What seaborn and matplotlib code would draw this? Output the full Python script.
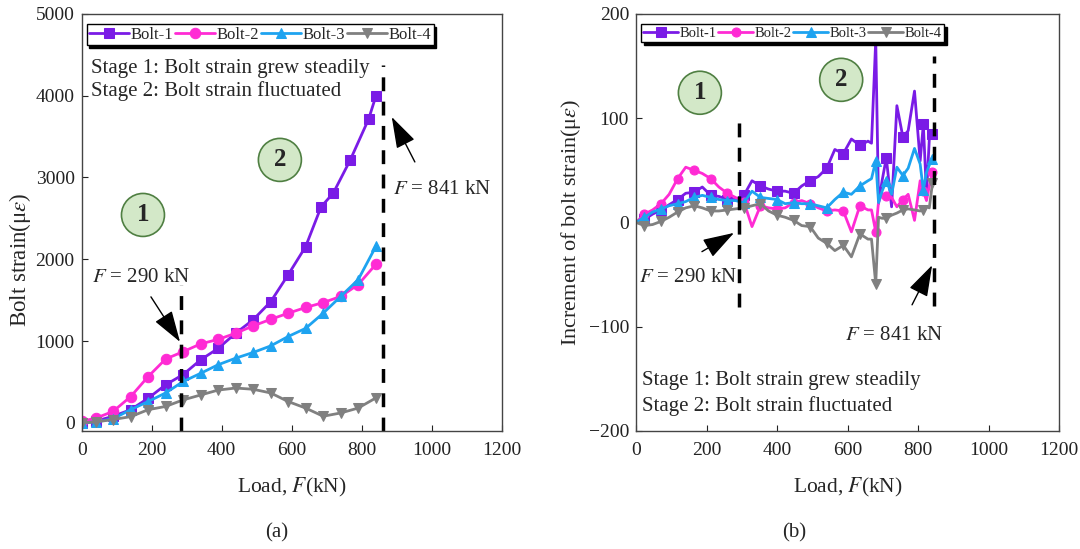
import matplotlib.pyplot as plt
import seaborn as sns

# (a) bolt strain vs load
load_a = [0, 40, 90, 140, 190, 240, 290, 340, 390, 440, 490, 540, 590, 640, 690, 740, 790, 841]
load_a_bolt1 = [0, 40, 90, 140, 190, 240, 290, 340, 390, 440, 490, 540, 590, 640, 684, 719, 767, 820, 841]
strain_bolt1 = [0, 20, 80, 160, 300, 465, 590, 770, 910, 1095, 1260, 1480, 1810, 2155, 2640, 2810, 3210, 3715, 4000]
strain_bolt2 = [20, 55, 140, 320, 565, 780, 870, 965, 1020, 1095, 1185, 1265, 1340, 1410, 1470, 1545, 1690, 1940]
strain_bolt3 = [0, 10, 50, 160, 260, 365, 505, 605, 710, 790, 860, 940, 1055, 1155, 1340, 1545, 1750, 2160]
strain_bolt4 = [0, 10, 40, 75, 160, 200, 280, 340, 400, 425, 410, 365, 260, 180, 80, 120, 180, 305]

# (b) increment of bolt strain vs load
load_b = [0, 24, 47, 71, 94, 118, 141, 165, 188, 212, 235, 259, 282, 306, 329, 353, 376, 400,
          423, 447, 470, 494, 517, 541, 564, 588, 611, 635, 658,
          668, 680, 688, 698, 710, 725, 740, 757, 772, 790, 806, 815, 824, 832, 841]
inc_bolt1 = [0, 3, 8, 12, 17, 22, 28, 29, 34, 26, 25, 22, 22, 26, 40, 35, 32, 30,
             30, 28, 35, 40, 44, 52, 70, 66, 80, 74, 78,
             76, 175, 18, 40, 62, 15, 112, 82, 88, 126, 59, 94, 27, 80, 85]
inc_bolt2 = [0, 8, 12, 18, 27, 42, 53, 50, 47, 42, 34, 28, 24, 20, -4, 16, 14, 13,
             14, 19, 21, 18, 14, 11, 12, 11, -9, 16, 12,
             12, -9, 20, 27, 25, 24, 15, 22, 27, 2, 40, 30, 21, 35, 48]
inc_bolt3 = [0, 5, 10, 13, 16, 18, 20, 24, 26, 24, 22, 21, 21, 19, 30, 24, 23, 22,
             18, 19, 18, 18, 16, 14, 22, 29, 27, 35, 40,
             42, 59, 19, 30, 40, 27, 53, 45, 52, 71, 56, 31, 48, 55, 61]
inc_bolt4 = [0, -3, -2, 1, 5, 10, 14, 16, 14, 11, 11, 12, 13, 14, 16, 18, 11, 7,
             5, 2, -3, -4, -15, -20, -27, -22, -33, -11, -16,
             -16, -59, 5, 4, 4, 7, 9, 12, 13, 12, 11, 12, 15, 14, 38]

labels = ["Bolt-1", "Bolt-2", "Bolt-3", "Bolt-4"]
colors = ["#7a1be6", "#ff2bd4", "#1ea3f0", "#808080"]
markers = ["s", "o", "^", "v"]

sns.set_style("ticks")
plt.rcParams["font.family"] = ["Liberation Serif", "DejaVu Serif"]
plt.rcParams["mathtext.fontset"] = "stix"

fig = plt.figure(figsize=(10.8, 5.49), dpi=100)
ax1 = fig.add_axes([0.0756, 0.215, 0.3889, 0.7596])
ax2 = fig.add_axes([0.5889, 0.215, 0.3917, 0.7596])


def draw(ax, x, y, i, ms, markevery=None):
    sns.lineplot(x=x, y=y, ax=ax, color=colors[i], marker=markers[i], markersize=ms,
                 markeredgecolor=colors[i], linewidth=2, label=labels[i],
                 markevery=markevery, estimator=None, sort=False)


draw(ax1, load_a_bolt1, strain_bolt1, 0, 7)
draw(ax1, load_a, strain_bolt2, 1, 7.5)
draw(ax1, load_a, strain_bolt3, 2, 7.5)
draw(ax1, load_a, strain_bolt4, 3, 7.5)

# markers only on some points in (b)
mk = list(range(1, 29, 2)) + [30, 33, 36, 40, 43]
for i, y in enumerate([inc_bolt1, inc_bolt2, inc_bolt3, inc_bolt4]):
    draw(ax2, load_b, y, i, 6.5, mk)

for ax in (ax1, ax2):
    ax.set_xlim(0, 1200)
    ax.set_xticks(range(0, 1201, 200))
    ax.tick_params(direction="in", length=4, labelsize=14, colors="#222", pad=5)
    ax.tick_params(axis="x", pad=8)
    for s in ax.spines.values():
        s.set_color("#444")
        s.set_linewidth(1)
    ax.set_xlabel("Load, $F$(kN)", fontsize=15.5, labelpad=12)
    h, l = ax.get_legend_handles_labels()
    fs = 12 if ax is ax1 else 10.5
    leg = ax.legend(h, l, loc="upper left", bbox_to_anchor=(0.012, 0.975), ncol=4,
                    fancybox=False, shadow={"color": "black", "alpha": 1}, edgecolor="black",
                    framealpha=1, handlelength=2.4, handletextpad=0.1, columnspacing=0.1,
                    borderpad=0.15, borderaxespad=0, prop={"size": fs})
    leg.get_frame().set_linewidth(1)
    leg.set_zorder(10)

ax1.set_ylim(-100, 5000)
ax1.set_yticks(range(0, 5001, 1000))
ax1.set_ylabel("Bolt strain(μ$\\varepsilon$)", fontsize=16.5)
ax1.yaxis.set_label_coords(-0.115, 0.41)
ax2.set_ylim(-200, 200)
ax2.set_yticks([-200, -100, 0, 100, 200])
ax2.set_ylabel("Increment of bolt strain(μ$\\varepsilon$)", fontsize=16)
ax2.yaxis.set_label_coords(-0.125, 0.5)

dash = (0, (4, 3))
circle = dict(boxstyle="circle,pad=0.4", fc="#d3e8c8", ec="#4f7f42", lw=1.2)
arrow = dict(arrowstyle="-|>,head_length=1.4,head_width=0.45", color="black", lw=1,
             mutation_scale=14, shrinkA=0, shrinkB=0)
fs_txt = 15

# panel (a) annotations
ax1.vlines(285, -100, 1690, colors="black", linestyles=dash, lw=2.5)
ax1.vlines(862, -100, 4370, colors="black", linestyles=dash, lw=2.5)
ax1.text(0.022, 0.87, "Stage 1: Bolt strain grew steadily", transform=ax1.transAxes,
         fontsize=fs_txt, va="center")
ax1.text(0.022, 0.815, "Stage 2: Bolt strain fluctuated", transform=ax1.transAxes,
         fontsize=fs_txt, va="center")
ax1.text(0.146, 0.518, "1", transform=ax1.transAxes, fontsize=18, fontweight="bold",
         ha="center", va="center", bbox=circle)
ax1.text(0.472, 0.65, "2", transform=ax1.transAxes, fontsize=18, fontweight="bold",
         ha="center", va="center", bbox=circle)
ax1.text(0.141, 0.367, "$F$ = 290 kN", transform=ax1.transAxes, fontsize=fs_txt, ha="center", va="center")
ax1.annotate("", xy=(281, 990), xytext=(198, 1540), arrowprops=arrow)
ax1.text(0.858, 0.578, "$F$ = 841 kN", transform=ax1.transAxes, fontsize=fs_txt, ha="center", va="center")
ax1.annotate("", xy=(886, 3740), xytext=(952, 3190), arrowprops=arrow)

# panel (b) annotations
ax2.vlines(293, -81, 100, colors="black", linestyles=dash, lw=2.5)
ax2.vlines(845, -80, 160, colors="black", linestyles=dash, lw=2.5)
ax2.text(0.151, 0.811, "1", transform=ax2.transAxes, fontsize=18, fontweight="bold",
         ha="center", va="center", bbox=circle)
ax2.text(0.485, 0.842, "2", transform=ax2.transAxes, fontsize=18, fontweight="bold",
         ha="center", va="center", bbox=circle)
ax2.text(0.123, 0.369, "$F$ = 290 kN", transform=ax2.transAxes, fontsize=fs_txt, ha="center", va="center")
ax2.annotate("", xy=(278, -10), xytext=(187, -28), arrowprops=arrow)
ax2.text(0.61, 0.228, "$F$ = 841 kN", transform=ax2.transAxes, fontsize=fs_txt, ha="center", va="center")
ax2.annotate("", xy=(840, -41), xytext=(783, -79), arrowprops=arrow)
ax2.text(0.014, 0.12, "Stage 1: Bolt strain grew steadily", transform=ax2.transAxes,
         fontsize=fs_txt, va="center")
ax2.text(0.014, 0.06, "Stage 2: Bolt strain fluctuated", transform=ax2.transAxes,
         fontsize=fs_txt, va="center")

fig.text(0.256, 0.03, "(a)", fontsize=15, ha="center", va="center")
fig.text(0.735, 0.03, "(b)", fontsize=15, ha="center", va="center")

fig.savefig("out.png", dpi=100)
